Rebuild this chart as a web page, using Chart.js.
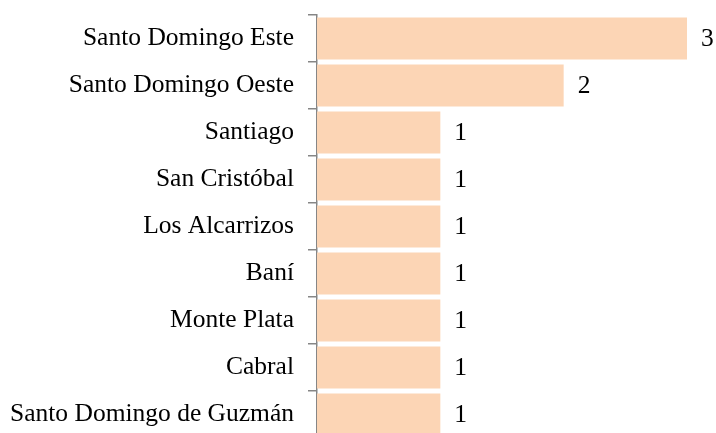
<!DOCTYPE html>
<html>
<head>
<meta charset="utf-8">
<script src="https://cdn.jsdelivr.net/npm/chart.js@4.4.1/dist/chart.umd.min.js"></script>
<style>
  html, body { margin: 0; padding: 0; background: #fff; overflow: hidden; }
  #wrap { width: 716px; height: 440px; }
</style>
</head>
<body>
<div id="wrap"><canvas id="chart" width="716" height="440"></canvas></div>
<script>
const categories = [
  "Santo Domingo Este",
  "Santo Domingo Oeste",
  "Santiago",
  "San Cristóbal",
  "Los Alcarrizos",
  "Baní",
  "Monte Plata",
  "Cabral",
  "Santo Domingo de Guzmán"
];
const counts = [3, 2, 1, 1, 1, 1, 1, 1, 1];

const fontFamily = "'Liberation Serif', 'DejaVu Serif', serif";
const fontSize = 25.5;

// Write the value just right of every bar
const valueLabels = {
  id: "valueLabels",
  afterDatasetsDraw(chart) {
    const ctx = chart.ctx;
    const meta = chart.getDatasetMeta(0);
    ctx.save();
    ctx.font = fontSize + "px " + fontFamily;
    ctx.fillStyle = "#000";
    ctx.textAlign = "left";
    ctx.textBaseline = "middle";
    meta.data.forEach((bar, i) => {
      ctx.fillText(String(counts[i]), bar.x + 14, bar.y + 1);
    });
    ctx.restore();
  }
};

new Chart(document.getElementById("chart").getContext("2d"), {
  type: "bar",
  data: {
    labels: categories,
    datasets: [{
      data: counts,
      backgroundColor: "#fcd5b5",
      borderWidth: 0,
      barPercentage: 0.89,
      categoryPercentage: 1
    }]
  },
  options: {
    indexAxis: "y",
    responsive: false,
    animation: false,
    layout: { padding: { top: 15, bottom: 2, right: 29, left: 0 } },
    plugins: {
      legend: { display: false },
      tooltip: { enabled: false }
    },
    scales: {
      x: {
        display: false,
        min: 0,
        max: 3
      },
      y: {
        afterFit: scale => {
          scale.width = 317;
          scale.paddingTop = 0;
          scale.paddingBottom = 0;
        },
        border: { display: true, color: "#868686", width: 1.5 },
        grid: {
          drawOnChartArea: false,
          drawTicks: true,
          tickLength: 9,
          color: "#868686",
          lineWidth: 1.5
        },
        ticks: {
          padding: 14,
          color: "#000",
          font: { family: fontFamily, size: fontSize }
        }
      }
    }
  },
  plugins: [valueLabels]
});
</script>
</body>
</html>
